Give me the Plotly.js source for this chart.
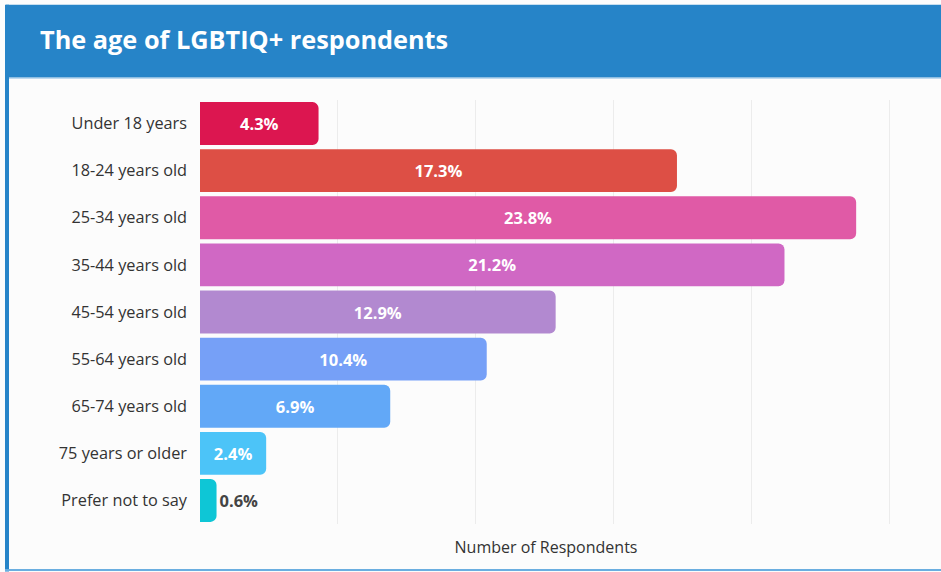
<!DOCTYPE html>
<html>
<head>
<meta charset="utf-8">
<script src="https://cdn.plot.ly/plotly-3.0.1.min.js"></script>
<style>html,body{margin:0;padding:0;background:#ffffff;}#chart{width:941px;height:572px;}</style>
</head>
<body>
<div id="chart"></div>
<script>
const categories = ["Under 18 years","18-24 years old","25-34 years old","35-44 years old","45-54 years old","55-64 years old","65-74 years old","75 years or older","Prefer not to say"];
const percentages = [4.3, 17.3, 23.8, 21.2, 12.9, 10.4, 6.9, 2.4, 0.6];
const barColors = ["#dc1650","#dd4f45","#e05aa6","#d068c4","#b289d0","#76a0f7","#62a8f7","#4cc4f8","#0ec6d6"];
const chartTitle = "The age of LGBTIQ+ respondents";
const xAxisTitle = "Number of Respondents";

const W = 941, H = 572;
const M = {l: 200, r: 49, t: 99.5, b: 47.5};
const pw = W - M.l - M.r, ph = H - M.t - M.b;
const px = x => (x - M.l) / pw;
const py = y => (H - M.b - y) / ph;

const trace = {
  type: "bar",
  orientation: "h",
  y: categories,
  x: percentages,
  text: percentages.map(v => v.toFixed(1) + "%"),
  textposition: percentages.map(v => v < 1 ? "outside" : "inside"),
  insidetextanchor: "middle",
  constraintext: "none",
  cliponaxis: false,
  insidetextfont: {family: "Open Sans", size: 16.5, color: "#ffffff", weight: 700},
  outsidetextfont: {family: "Open Sans", size: 16.5, color: "#444444", weight: 700},
  marker: {color: barColors, cornerradius: 6},
  hoverinfo: "none"
};

const shapes = [
  {type: "rect", xref: "paper", yref: "paper", x0: px(6), x1: px(941), y0: py(77), y1: py(4),
   fillcolor: "#2684c8", line: {width: 0}, layer: "below"},
  {type: "line", xref: "paper", yref: "paper", x0: px(9), x1: px(941), y0: py(77.5), y1: py(77.5),
   line: {color: "#8cbde3", width: 1}},
  {type: "rect", xref: "paper", yref: "paper", x0: px(5), x1: px(9), y0: py(572), y1: py(4),
   fillcolor: "#2684c8", line: {width: 0}, layer: "below"},
  {type: "line", xref: "paper", yref: "paper", x0: px(5), x1: px(941), y0: py(570.5), y1: py(570.5),
   line: {color: "#6aaee0", width: 2}}
];

const layout = {
  width: W, height: H,
  margin: M,
  paper_bgcolor: "#fcfcfc",
  plot_bgcolor: "#fcfcfc",
  font: {family: "Open Sans", color: "#333333"},
  showlegend: false,
  bargap: 0.09,
  title: {
    text: "<b>" + chartTitle + "</b>",
    font: {family: "Open Sans", size: 25.3, color: "#ffffff"},
    xref: "container", yref: "container",
    x: 40 / W, xanchor: "left",
    y: 1 - 40.5 / H, yanchor: "middle"
  },
  xaxis: {
    range: [0, 25.1],
    dtick: 5, tick0: 0,
    showgrid: true, gridcolor: "#ececec", gridwidth: 1,
    zeroline: false,
    showticklabels: false,
    showline: false,
    ticks: "",
    fixedrange: true,
    title: {text: xAxisTitle, font: {family: "Open Sans", size: 16, color: "#333333"}, standoff: 17}
  },
  yaxis: {
    autorange: "reversed",
    showgrid: false,
    zeroline: false,
    ticks: "",
    ticklabelstandoff: 12,
    tickfont: {family: "Open Sans", size: 16.3, color: "#333333"},
    fixedrange: true
  },
  shapes: shapes
};

Plotly.newPlot("chart", [trace], layout, {displayModeBar: false, staticPlot: true});
</script>
</body>
</html>
